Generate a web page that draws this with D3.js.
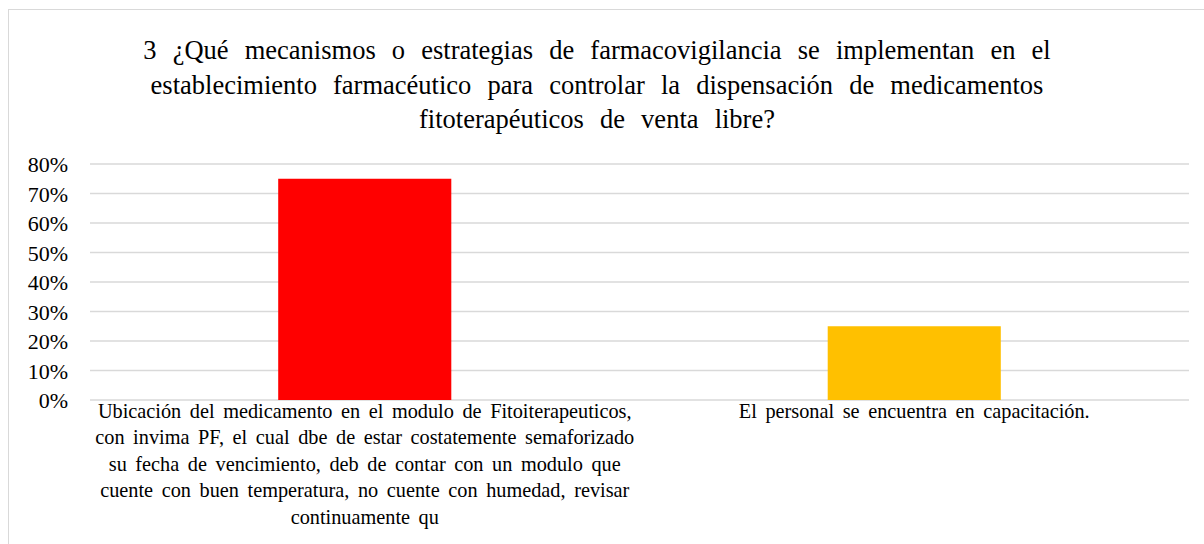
<!DOCTYPE html>
<html>
<head>
<meta charset="utf-8">
<script src="https://cdn.jsdelivr.net/npm/d3@7"></script>
<style>
  body { margin: 0; background: #fff; }
  svg text { font-family: "Liberation Serif", "Times New Roman", serif; }
</style>
</head>
<body>
<div id="chart"></div>
<script>
// data
var titleLines = [
    "3 ¿Qué mecanismos o estrategias de farmacovigilancia se implementan en el",
    "establecimiento farmacéutico para controlar la dispensación de medicamentos",
    "fitoterapéuticos de venta libre?"
];
var categories = ["cat1", "cat2"];
var categoryLabels = [
    ["Ubicación del medicamento en el modulo de Fitoiterapeuticos,",
     "con invima PF, el cual dbe de estar costatemente semaforizado",
     "su fecha de vencimiento, deb de contar con un modulo que",
     "cuente con buen temperatura, no cuente con humedad, revisar",
     "continuamente qu"],
    ["El personal se encuentra en capacitación."]
];
var values = [0.75, 0.25];
var barColors = ["#ff0000", "#ffc000"];
var yTicks = [0, 0.1, 0.2, 0.3, 0.4, 0.5, 0.6, 0.7, 0.8];

var W = 1204, H = 544;
var plot = { left: 90, right: 1189, top: 164, bottom: 400 };

var svg = d3.select("#chart")
    .append("svg")
    .attr("width", W)
    .attr("height", H);

// chart area border
svg.append("rect")
    .attr("x", 8.5)
    .attr("y", 9.5)
    .attr("width", W + 20)
    .attr("height", H + 20)
    .attr("fill", "#fff")
    .attr("stroke", "#d9d9d9")
    .attr("stroke-width", 1);

// title
svg.append("text")
    .attr("text-anchor", "middle")
    .attr("font-size", "26.5px")
    .attr("word-spacing", "9.5px")
    .attr("fill", "#000")
    .selectAll("tspan")
    .data(titleLines)
    .enter().append("tspan")
    .attr("x", 597)
    .attr("y", function (d, i) { return 59 + i * 34.5; })
    .text(function (d) { return d; });

var x = d3.scaleBand()
    .domain(categories)
    .range([plot.left, plot.right])
    .padding(0);

var y = d3.scaleLinear()
    .domain([0, 0.8])
    .range([plot.bottom, plot.top]);

// gridlines
svg.append("g")
    .selectAll("line")
    .data(yTicks)
    .enter().append("line")
    .attr("x1", plot.left)
    .attr("x2", plot.right)
    .attr("y1", function (d) { return y(d); })
    .attr("y2", function (d) { return y(d); })
    .attr("stroke", "#d9d9d9")
    .attr("stroke-width", 1.5);

// Y axis labels
var yAxis = svg.append("g")
    .attr("transform", "translate(" + (plot.left - 22) + ",0)")
    .call(d3.axisLeft(y).tickValues(yTicks).tickFormat(d3.format(".0%")).tickSize(0).tickPadding(0));
yAxis.select(".domain").remove();
yAxis.selectAll("text")
    .attr("font-family", "Liberation Serif, Times New Roman, serif")
    .attr("font-size", "22px")
    .attr("fill", "#000")
    .attr("dy", "0.35em");

// bars
var barW = x.bandwidth() * 0.315;
svg.append("g")
    .selectAll("rect")
    .data(values)
    .enter().append("rect")
    .attr("x", function (d, i) { return x(categories[i]) + x.bandwidth() / 2 - barW / 2; })
    .attr("y", function (d) { return y(d); })
    .attr("width", barW)
    .attr("height", function (d) { return y(0) - y(d); })
    .attr("fill", function (d, i) { return barColors[i]; });

// category labels
svg.append("g")
    .selectAll("text")
    .data(categoryLabels)
    .enter().append("text")
    .attr("text-anchor", "middle")
    .attr("font-size", "20.3px")
    .attr("word-spacing", "3.5px")
    .attr("fill", "#000")
    .each(function (lines, i) {
        var cx = x(categories[i]) + x.bandwidth() / 2;
        d3.select(this).selectAll("tspan")
            .data(lines)
            .enter().append("tspan")
            .attr("x", cx)
            .attr("y", function (d, j) { return 417.5 + j * 26.5; })
            .text(function (d) { return d; });
    });
</script>
</body>
</html>
